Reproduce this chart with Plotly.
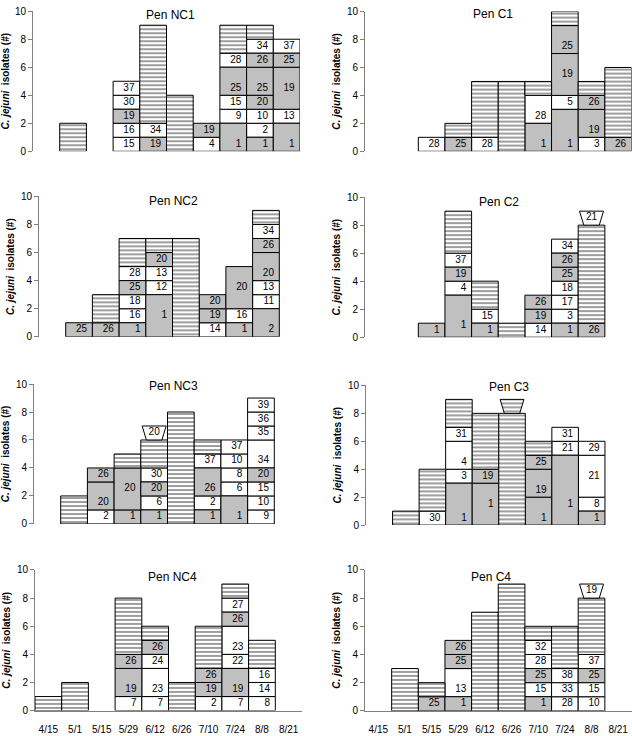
import plotly.graph_objects as go
from plotly.subplots import make_subplots

DATES = ["4/15", "5/1", "5/15", "5/29", "6/12", "6/26", "7/10", "7/24", "8/8", "8/21"]

# stacks from the ground up: (height, fill, label, label height inside the segment)
# fill: "w" white, "g" grey, "h" hatched (no label)
NC1 = {
    "5/1": [(2, "h")],
    "5/29": [(1, "w", "15"), (1, "w", "16"), (1, "g", "19"), (1, "w", "30"), (1, "w", "37")],
    "6/12": [(1, "g", "19"), (1, "w", "34"), (7, "h")],
    "6/26": [(4, "h")],
    "7/10": [(1, "w", "4"), (1, "g", "19")],
    "7/24": [(2, "g", "1"), (1, "w", "9"), (1, "w", "15"), (2, "g", "25"), (1, "w", "28"), (2, "h")],
    "8/8": [(1, "g", "1"), (1, "w", "2"), (1, "w", "10"), (1, "g", "20"), (2, "g", "25"),
            (1, "g", "26"), (1, "w", "34"), (1, "h")],
    "8/21": [(2, "g", "1"), (1, "w", "13"), (3, "g", "19", 1.5), (1, "g", "25"), (1, "w", "37")],
}
C1 = {
    "5/15": [(1, "w", "28")],
    "5/29": [(1, "g", "25"), (1, "h")],
    "6/12": [(1, "w", "28"), (4, "h")],
    "6/26": [(5, "h")],
    "7/10": [(2, "g", "1"), (2, "w", "28"), (1, "h")],
    "7/24": [(3, "g", "1"), (1, "w", "5"), (3, "g", "19", 1.5), (2, "g", "25"), (1, "h")],
    "8/8": [(1, "w", "3"), (2, "g", "19"), (1, "g", "26"), (1, "h")],
    "8/21": [(1, "g", "26"), (5, "h")],
}
NC2 = {
    "5/1": [(1, "g", "25")],
    "5/15": [(1, "g", "26"), (2, "h")],
    "5/29": [(1, "g", "1"), (1, "w", "16"), (1, "w", "18"), (1, "g", "25"), (1, "w", "28"), (2, "h")],
    "6/12": [(3, "g", "1", 1.5), (1, "w", "12"), (1, "w", "13"), (1, "g", "20"), (1, "h")],
    "6/26": [(7, "h")],
    "7/10": [(1, "w", "14"), (1, "g", "19"), (1, "g", "20")],
    "7/24": [(1, "g", "1"), (1, "w", "16"), (3, "g", "20", 1.5)],
    "8/8": [(2, "g", "2"), (1, "w", "11"), (1, "w", "13"), (2, "g", "20"), (1, "g", "26"),
            (1, "w", "34"), (1, "h")],
}
C2 = {
    "5/15": [(1, "g", "1")],
    "5/29": [(3, "g", "1", 0.85), (1, "w", "4"), (1, "g", "19"), (1, "w", "37"), (3, "h")],
    "6/12": [(1, "g", "1"), (1, "w", "15"), (2, "h")],
    "6/26": [(1, "h")],
    "7/10": [(1, "w", "14"), (1, "g", "19"), (1, "g", "26")],
    "7/24": [(1, "g", "1"), (1, "w", "3"), (1, "w", "17"), (1, "w", "18"), (1, "g", "25"),
             (1, "g", "26"), (1, "w", "34")],
    "8/8": [(1, "g", "26"), (7, "h")],
}
NC3 = {
    "5/1": [(2, "h")],
    "5/15": [(1, "w", "2"), (2, "g", "20"), (1, "g", "26")],
    "5/29": [(1, "g", "1"), (3, "g", "20", 1.5), (1, "h")],
    "6/12": [(1, "g", "1"), (1, "w", "6"), (1, "g", "20"), (1, "w", "30"), (2, "h")],
    "6/26": [(8, "h")],
    "7/10": [(1, "g", "1"), (1, "w", "2"), (2, "g", "26"), (1, "w", "37"), (1, "h")],
    "7/24": [(2, "g", "1"), (1, "w", "6"), (1, "w", "8"), (1, "w", "10"), (1, "w", "37")],
    "8/8": [(1, "w", "9"), (1, "w", "10"), (1, "w", "15"), (1, "g", "20"), (2, "w", "34"),
            (1, "w", "35"), (1, "w", "36"), (1, "w", "39")],
}
C3 = {
    "5/1": [(1, "h")],
    "5/15": [(1, "w", "30"), (3, "h")],
    "5/29": [(3, "g", "1"), (1, "w", "3"), (2, "w", "4"), (1, "w", "31"), (2, "h")],
    "6/12": [(3, "g", "1", 1.5), (1, "g", "19"), (4, "h")],
    "6/26": [(8, "h")],
    "7/10": [(2, "g", "1"), (2, "g", "19"), (1, "g", "25"), (1, "h")],
    "7/24": [(5, "g", "1", 1.5), (1, "w", "21"), (1, "w", "31")],
    "8/8": [(1, "g", "1"), (1, "w", "8"), (3, "w", "21", 1.5), (1, "w", "29")],
}
NC4 = {
    "4/15": [(1, "h")],
    "5/1": [(2, "h")],
    "5/29": [(1, "w", "7"), (2, "g", "19"), (1, "g", "26"), (4, "h")],
    "6/12": [(1, "w", "7"), (2, "w", "23"), (1, "w", "24"), (1, "g", "26"), (1, "h")],
    "6/26": [(2, "h")],
    "7/10": [(1, "w", "2"), (1, "g", "19"), (1, "g", "26"), (3, "h")],
    "7/24": [(1, "w", "7"), (2, "g", "19"), (1, "w", "22"), (2, "w", "23"), (1, "g", "26"),
             (1, "w", "27"), (1, "h")],
    "8/8": [(1, "w", "8"), (1, "w", "14"), (1, "w", "16"), (2, "h")],
}
C4 = {
    "5/1": [(3, "h")],
    "5/15": [(1, "g", "25"), (1, "h")],
    "5/29": [(1, "g", "1"), (2, "w", "13"), (1, "g", "25"), (1, "g", "26")],
    "6/12": [(7, "h")],
    "6/26": [(9, "h")],
    "7/10": [(1, "g", "1"), (1, "w", "15"), (1, "g", "25"), (1, "w", "28"), (1, "w", "32"), (1, "h")],
    "7/24": [(1, "w", "28"), (1, "w", "33"), (1, "w", "38"), (3, "h")],
    "8/8": [(1, "w", "10"), (1, "w", "15"), (1, "g", "25"), (1, "w", "37"), (4, "h")],
}

# funnel-shaped markers sitting on top of a stack: (date, label, fill)
TOP_NC3 = ("6/12", "20", "w")
TOP_C2 = ("8/8", "21", "w")
TOP_C3 = ("6/26", "", "h")
TOP_C4 = ("8/8", "19", "w")

PANELS = [
    ("Pen NC1", NC1, None), ("Pen C1", C1, None),
    ("Pen NC2", NC2, None), ("Pen C2", C2, TOP_C2),
    ("Pen NC3", NC3, TOP_NC3), ("Pen C3", C3, TOP_C3),
    ("Pen NC4", NC4, None), ("Pen C4", C4, TOP_C4),
]

W, H = 632, 736
FONT = "Liberation Sans, Arial, sans-serif"
GREY = "#c0c0c0"
AXIS = "#808080"
HATCH = dict(shape="-", fgcolor="#000000", bgcolor="white", size=4, solidity=0.38)

# plot areas in pixels: (left, right, y of 0, y of 10)
BOXES = [
    (33, 300, 147.7, 5.3), (365, 631.5, 147.7, 5.7),
    (39, 306, 336.3, 193.5), (365, 631.5, 336.7, 194.3),
    (34, 301, 526.5, 384.3), (366, 631.5, 527.7, 385.7),
    (35, 302, 716.3, 573.3), (365, 631.5, 716.5, 573.3),
]
TITLE_XY = [(170, 9), (493, 8), (173, 198), (499, 199), (173, 386), (509, 387), (172, 580), (491, 580)]

STYLE = {
    "w": dict(color="white", line=dict(color="black", width=1)),
    "g": dict(color=GREY, line=dict(color="black", width=1)),
    "h": dict(color="white", pattern=HATCH, line=dict(color="black", width=1)),
}

fig = make_subplots(rows=4, cols=2)

for k, (title, bars, top) in enumerate(PANELS):
    row, col = k // 2 + 1, k % 2 + 1
    groups = {f: ([], [], []) for f in STYLE}
    tx, ty, tt = [], [], []
    heights = {}
    for date, segs in bars.items():
        i = DATES.index(date)
        base = 0
        for seg in segs:
            h, fill = seg[0], seg[1]
            xs, ys, bs = groups[fill]
            xs.append(i)
            ys.append(h)
            bs.append(base)
            if len(seg) > 2:
                tx.append(i + 0.3)
                ty.append(base + (seg[3] if len(seg) > 3 else 0.5))
                tt.append(seg[2])
            base += h
        heights[date] = base

    for fill, (xs, ys, bs) in groups.items():
        if xs:
            fig.add_trace(
                go.Bar(x=xs, y=ys, base=bs, width=1, marker=STYLE[fill],
                       showlegend=False, hoverinfo="skip"),
                row=row, col=col,
            )

    if top:
        date, label, fill = top
        i = DATES.index(date)
        y0 = heights[date]
        shape = dict(
            x=[i - 0.45, i + 0.45, i + 0.29, i - 0.29, i - 0.45],
            y=[y0 + 1, y0 + 1, y0, y0, y0 + 1],
            mode="lines", fill="toself", fillcolor="white",
            line=dict(color="black", width=1), showlegend=False, hoverinfo="skip",
        )
        if fill == "h":
            shape["fillpattern"] = HATCH
        fig.add_trace(go.Scatter(**shape), row=row, col=col)
        if label:
            fig.add_trace(
                go.Scatter(x=[i], y=[y0 + 0.55], text=[label], mode="text",
                           textfont=dict(family=FONT, size=10, color="black"),
                           showlegend=False, hoverinfo="skip"),
                row=row, col=col,
            )

    fig.add_trace(
        go.Scatter(x=tx, y=ty, text=tt, mode="text", textposition="middle left",
                   textfont=dict(family=FONT, size=10, color="black"),
                   showlegend=False, hoverinfo="skip"),
        row=row, col=col,
    )

    left, right, y0px, y10px = BOXES[k]
    bottom = row == 4
    fig.update_xaxes(
        domain=[left / W, right / W], range=[-0.5, 9.5],
        tickmode="array", tickvals=list(range(len(DATES))), ticktext=DATES,
        showticklabels=bottom, showline=bottom, linecolor=AXIS, linewidth=1,
        ticks="", ticklabelstandoff=9, showgrid=False, zeroline=False,
        tickfont=dict(family=FONT, size=10, color="black"),
        row=row, col=col,
    )
    fig.update_yaxes(
        domain=[1 - y0px / H, 1 - y10px / H], range=[0, 10],
        tickmode="array", tickvals=[0, 2, 4, 6, 8, 10],
        ticks="outside", ticklen=4, tickcolor=AXIS, showline=True, linecolor=AXIS, linewidth=1,
        showgrid=False, zeroline=False,
        tickfont=dict(family=FONT, size=10, color="black"),
        title=dict(text="<b><i>C. jejuni</i>  isolates (#)</b>",
                   font=dict(family=FONT, size=10, color="black"), standoff=4),
        row=row, col=col,
    )
    tx_px, ty_px = TITLE_XY[k]
    fig.add_annotation(
        text=title, xref="paper", yref="paper", x=tx_px / W, y=1 - ty_px / H,
        xanchor="center", yanchor="middle", showarrow=False,
        font=dict(family=FONT, size=12, color="black"),
    )

fig.update_layout(
    width=W, height=H,
    margin=dict(l=0, r=0, t=0, b=0),
    barmode="overlay",
    paper_bgcolor="white",
    plot_bgcolor="white",
    showlegend=False,
)

# the default page keeps an 8px body margin; drop it so the figure fills the window
fig.write_html(
    "out.html",
    config={"displayModeBar": False},
    post_script="document.body.style.margin = '0';",
)
